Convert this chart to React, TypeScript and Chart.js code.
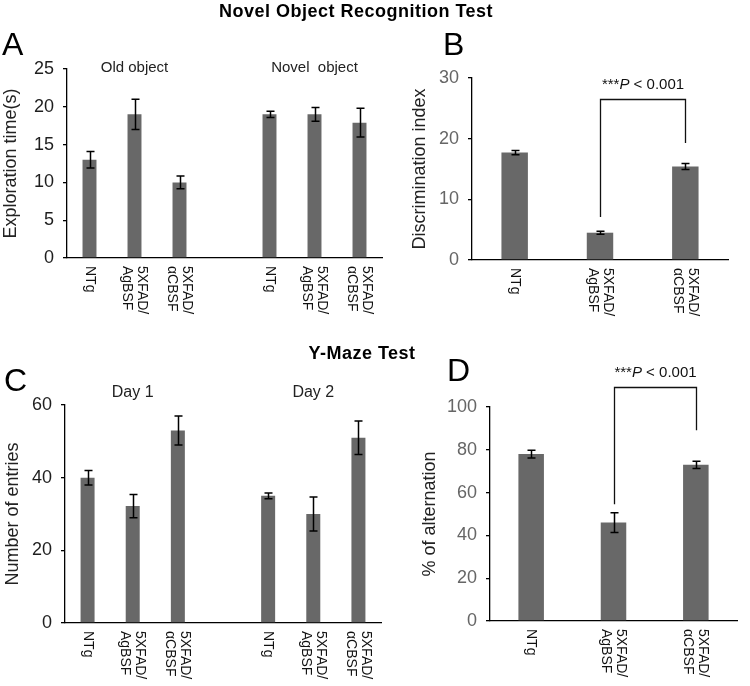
import React, { useEffect, useRef } from "react";
import { Chart, registerables } from "chart.js";
Chart.register(...registerables);

const FONT = "'Liberation Sans', Arial, Helvetica, sans-serif";

// ---------- Panel A: Novel object recognition, exploration time ----------
const categoriesA = [["NTg"], ["5XFAD/", "AgBSF"], ["5XFAD/", "αCBSF"], [""], ["NTg"], ["5XFAD/", "AgBSF"], ["5XFAD/", "αCBSF"]];
const valuesA = [13, 19, 10, null, 19, 19, 17.9];
const errorsA = [1.1, 2, 0.85, null, 0.4, 0.9, 1.9];
const yTicksA = [0, 5, 10, 15, 20, 25];
const groupNamesA = ["Old object", "Novel  object"];
const groupIndexA = [1, 5];

// ---------- Panel B: Discrimination index ----------
const categoriesB = [["NTg"], ["5XFAD/", "AgBSF"], ["5XFAD/", "αCBSF"]];
const valuesB = [17.7, 4.5, 15.4];
const errorsB = [0.35, 0.25, 0.5];
const yTicksB = [0, 10, 20, 30];
const bracketB = [7.1, 26.6, 19.3]; // left foot, top, right foot (data units)

// ---------- Panel C: Y-maze number of entries ----------
const categoriesC = [["NTg"], ["5XFAD/", "AgBSF"], ["5XFAD/", "αCBSF"], [""], ["NTg"], ["5XFAD/", "AgBSF"], ["5XFAD/", "αCBSF"]];
const valuesC = [40, 32.2, 53, null, 35, 30, 51];
const errorsC = [2, 3.2, 4, null, 0.8, 4.7, 4.6];
const yTicksC = [0, 20, 40, 60];
const groupNamesC = ["Day 1", "Day 2"];
const groupIndexC = [1, 5];

// ---------- Panel D: % of alternation ----------
const categoriesD = [["NTg"], ["5XFAD/", "AgBSF"], ["5XFAD/", "αCBSF"]];
const valuesD = [78, 46, 73];
const errorsD = [1.8, 4.6, 1.7];
const yTicksD = [0, 20, 40, 60, 80, 100];
const bracketD = [54.6, 109.3, 89.1];

type PanelSpec = {
  left: number; top: number; width: number; height: number;
  categories: string[][]; values: (number | null)[]; errors: (number | null)[];
  yTicks: number[]; yTitle: string; yTitlePad: number; tickColor: string;
  yWidth: number; xHeight: number; padTop: number; padRight: number;
  cap: number;
  groupNames?: string[]; groupIndex?: number[]; groupFont?: number; groupDy?: number;
  bracket?: number[]; bracketIdx?: number[];
};

function makePlugin(spec: PanelSpec) {
  return {
    id: "annot",
    afterDraw(chart: any) {
      const { ctx, chartArea } = chart;
      const xs = chart.scales.x;
      const ys = chart.scales.y;
      ctx.save();
      // error bars
      ctx.strokeStyle = "#000";
      ctx.lineWidth = 1.5;
      spec.values.forEach((v, i) => {
        const e = spec.errors[i];
        if (v == null || e == null) return;
        const x = Math.round(xs.getPixelForValue(i)) + 0.5;
        const y1 = ys.getPixelForValue(v + e);
        const y2 = ys.getPixelForValue(v - e);
        ctx.beginPath();
        ctx.moveTo(x, y1); ctx.lineTo(x, y2);
        ctx.moveTo(x - spec.cap, y1); ctx.lineTo(x + spec.cap, y1);
        ctx.moveTo(x - spec.cap, y2); ctx.lineTo(x + spec.cap, y2);
        ctx.stroke();
      });
      // rotated category labels (clockwise)
      ctx.fillStyle = "#111";
      ctx.font = `14px ${FONT}`;
      ctx.textAlign = "left";
      ctx.textBaseline = "middle";
      const lh = 15;
      (chart.data.labels as string[][]).forEach((lines, i) => {
        const x = xs.getPixelForValue(i);
        const yTop = chartArea.bottom + 8;
        ctx.save();
        ctx.translate(x, yTop);
        ctx.rotate(Math.PI / 2);
        const n = lines.length;
        lines.forEach((t, k) => {
          ctx.fillText(t, 0, (k - (n - 1) / 2) * lh);
        });
        ctx.restore();
      });
      // group labels
      if (spec.groupNames && spec.groupIndex) {
        ctx.fillStyle = "#222";
        ctx.font = `${spec.groupFont}px ${FONT}`;
        ctx.textAlign = "center";
        ctx.textBaseline = "middle";
        spec.groupNames.forEach((g, k) => {
          ctx.fillText(g, xs.getPixelForValue(spec.groupIndex![k]), chartArea.top + (spec.groupDy || 0));
        });
      }
      // significance bracket
      if (spec.bracket && spec.bracketIdx) {
        const [a, b] = spec.bracketIdx;
        const xa = Math.round(xs.getPixelForValue(a)) + 0.5;
        const xb = Math.round(xs.getPixelForValue(b)) + 0.5;
        const yA = ys.getPixelForValue(spec.bracket[0]);
        const yT = Math.round(ys.getPixelForValue(spec.bracket[1])) + 0.5;
        const yB = ys.getPixelForValue(spec.bracket[2]);
        ctx.strokeStyle = "#111";
        ctx.lineWidth = 1.3;
        ctx.beginPath();
        ctx.moveTo(xa, yA); ctx.lineTo(xa, yT); ctx.lineTo(xb, yT); ctx.lineTo(xb, yB);
        ctx.stroke();
        // ***P < 0.001
        const parts = [
          { t: "***", f: `15px ${FONT}` },
          { t: "P", f: `italic 15px ${FONT}` },
          { t: " < 0.001", f: `15px ${FONT}` },
        ];
        let w = 0;
        parts.forEach((p) => { ctx.font = p.f; w += ctx.measureText(p.t).width; });
        let cx = (xa + xb) / 2 - w / 2;
        const cy = yT - 15;
        ctx.fillStyle = "#111";
        ctx.textAlign = "left";
        ctx.textBaseline = "middle";
        parts.forEach((p) => {
          ctx.font = p.f;
          ctx.fillText(p.t, cx, cy);
          cx += ctx.measureText(p.t).width;
        });
      }
      ctx.restore();
    },
  };
}

function Panel({ spec }: { spec: PanelSpec }) {
  const ref = useRef<HTMLCanvasElement>(null);
  useEffect(() => {
    if (!ref.current) return;
    const ticks = spec.yTicks;
    const chart = new Chart(ref.current, {
      type: "bar",
      data: {
        labels: spec.categories as any,
        datasets: [
          {
            data: spec.values as any,
            backgroundColor: "#686868",
            borderWidth: 0,
            barPercentage: 0.31,
            categoryPercentage: 1,
          },
        ],
      },
      options: {
        animation: false,
        responsive: false,
        events: [],
        layout: { padding: { top: spec.padTop, right: spec.padRight, left: 0, bottom: 0 } },
        plugins: { legend: { display: false }, tooltip: { enabled: false }, title: { display: false } },
        scales: {
          x: {
            type: "category",
            grid: { display: false },
            border: { display: true, color: "#000", width: 1.3 },
            ticks: { display: false },
            afterFit: (s: any) => { s.height = spec.xHeight; },
          },
          y: {
            type: "linear",
            min: ticks[0],
            max: ticks[ticks.length - 1],
            afterBuildTicks: (s: any) => { s.ticks = ticks.map((v) => ({ value: v })); },
            grid: { display: true, drawOnChartArea: false, drawTicks: true, tickLength: 4, color: "#000", lineWidth: 1.3 },
            border: { display: true, color: "#000", width: 1.3 },
            ticks: { color: spec.tickColor, font: { family: FONT, size: 18 }, padding: 9 },
            title: {
              display: true,
              text: spec.yTitle,
              color: "#222",
              font: { family: FONT, size: 18 },
              padding: { top: spec.yTitlePad, bottom: 0 },
            },
            afterFit: (s: any) => { s.width = spec.yWidth; },
          },
        },
      },
      plugins: [makePlugin(spec)],
    });
    return () => chart.destroy();
  }, []);
  return (
    <div style={{ position: "absolute", left: spec.left, top: spec.top, width: spec.width, height: spec.height }}>
      <canvas ref={ref} width={spec.width} height={spec.height} style={{ display: "block" }} />
    </div>
  );
}

const specA: PanelSpec = {
  left: 0, top: 0, width: 392, height: 330,
  categories: categoriesA, values: valuesA, errors: errorsA, yTicks: yTicksA,
  yTitle: "Exploration time(s)", yTitlePad: 0, tickColor: "#1e1e1e",
  yWidth: 67, xHeight: 72, padTop: 69, padRight: 10, cap: 4,
  groupNames: groupNamesA, groupIndex: groupIndexA, groupFont: 15, groupDy: -1,
};
const specB: PanelSpec = {
  left: 409, top: 0, width: 332, height: 330,
  categories: categoriesB, values: valuesB, errors: errorsB, yTicks: yTicksB,
  yTitle: "Discrimination index", yTitlePad: 0, tickColor: "#666666",
  yWidth: 63, xHeight: 70, padTop: 78, padRight: 13, cap: 4,
  bracket: bracketB, bracketIdx: [1, 2],
};
const specC: PanelSpec = {
  left: 0, top: 340, width: 392, height: 346,
  categories: categoriesC, values: valuesC, errors: errorsC, yTicks: yTicksC,
  yTitle: "Number of entries", yTitlePad: 2, tickColor: "#1e1e1e",
  yWidth: 65, xHeight: 63, padTop: 65, padRight: 11, cap: 4,
  groupNames: groupNamesC, groupIndex: groupIndexC, groupFont: 16, groupDy: -12,
};
const specD: PanelSpec = {
  left: 419, top: 340, width: 331, height: 346,
  categories: categoriesD, values: valuesD, errors: errorsD, yTicks: yTicksD,
  yTitle: "% of alternation", yTitlePad: 0, tickColor: "#666666",
  yWidth: 71, xHeight: 65, padTop: 67, padRight: 13, cap: 4,
  bracket: bracketD, bracketIdx: [1, 2],
};

const letterStyle = (left: number, top: number): React.CSSProperties => ({
  position: "absolute", left, top, font: `32px ${FONT}`, lineHeight: "32px", color: "#000",
});
const titleStyle = (cx: number, top: number): React.CSSProperties => ({
  position: "absolute", left: cx - 200, top, width: 400, textAlign: "center",
  font: `bold 18px ${FONT}`, lineHeight: "18px", letterSpacing: "0.5px", color: "#000",
});

export default function App() {
  return (
    <div style={{ position: "absolute", left: 0, top: 0, width: 750, height: 686, background: "#fff", overflow: "hidden" }}>
      <Panel spec={specA} />
      <Panel spec={specB} />
      <Panel spec={specC} />
      <Panel spec={specD} />
      <div style={titleStyle(356, 2)}>Novel Object Recognition Test</div>
      <div style={titleStyle(362, 344)}>Y-Maze Test</div>
      <div style={letterStyle(2, 28)}>A</div>
      <div style={letterStyle(443, 28)}>B</div>
      <div style={letterStyle(4, 364)}>C</div>
      <div style={letterStyle(447, 354)}>D</div>
    </div>
  );
}
